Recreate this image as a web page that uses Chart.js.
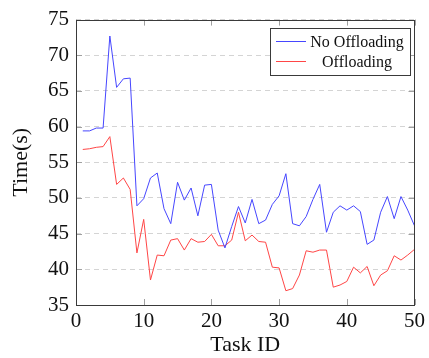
<!DOCTYPE html>
<html>
<head>
<meta charset="utf-8">
<script src="https://cdn.jsdelivr.net/npm/chart.js@4"></script>
<style>body{margin:0;background:#fff}</style>
</head>
<body>
<canvas id="myChart" width="429" height="358"></canvas>
<script>
const taskIds = [1,2,3,4,5,6,7,8,9,10,11,12,13,14,15,16,17,18,19,20,21,22,23,24,25,
  26,27,28,29,30,31,32,33,34,35,36,37,38,39,40,41,42,43,44,45,46,47,48,49,50];

const noOffloading = [59.4,59.4,59.8,59.8,72.7,65.5,66.7,66.8,48.9,49.9,52.8,53.5,48.5,46.4,52.2,
  49.7,51.4,47.5,51.8,51.9,45.5,43.0,46.0,48.8,46.5,49.8,46.4,46.9,49.1,50.3,53.4,46.4,46.1,47.4,
  49.8,51.9,45.2,48.0,48.9,48.3,48.9,48.1,43.5,44.1,48.0,50.2,47.1,50.2,48.3,46.1];

const offloading = [56.8,56.9,57.1,57.2,58.6,51.9,52.8,51.2,42.3,47.0,38.5,42.0,41.9,44.1,44.3,
  42.7,44.3,43.8,43.9,44.9,43.3,43.3,44.1,48.0,44.0,44.8,43.9,43.8,40.3,40.2,37.0,37.3,39.2,42.6,
  42.4,42.7,42.7,37.5,37.8,38.3,40.3,39.5,40.4,37.7,39.2,39.8,41.9,41.3,42.0,42.8];

const seriesNames = ['No Offloading', 'Offloading'];
const xTicks = [0, 10, 20, 30, 40, 50];
const yTicks = [35, 40, 45, 50, 55, 60, 65, 70, 75];

const serif = "'Liberation Serif', 'DejaVu Serif', serif";

function toPoints(values) {
  return values.map((v, i) => ({x: taskIds[i], y: v}));
}

// frame with inward ticks + boxed legend inside the plot
const frameAndLegend = {
  id: 'frameAndLegend',
  afterDatasetsDraw(chart) {
    const {ctx, chartArea: a, scales} = chart;
    ctx.save();
    ctx.lineWidth = 1;
    ctx.strokeStyle = '#a0a0a0';
    ctx.beginPath();
    xTicks.forEach(v => {
      const px = Math.round(scales.x.getPixelForValue(v)) + 0.5;
      ctx.moveTo(px, a.bottom); ctx.lineTo(px, a.bottom - 6);
      ctx.moveTo(px, a.top); ctx.lineTo(px, a.top + 6);
    });
    yTicks.forEach(v => {
      const py = Math.round(scales.y.getPixelForValue(v)) + 0.5;
      ctx.moveTo(a.left, py); ctx.lineTo(a.left + 6, py);
      ctx.moveTo(a.right, py); ctx.lineTo(a.right - 6, py);
    });
    ctx.stroke();

    ctx.strokeStyle = '#3a3a3a';
    ctx.strokeRect(Math.round(a.left) + 0.5, Math.round(a.top) + 0.5,
      Math.round(a.right - a.left) - 1, Math.round(a.bottom - a.top));

    // legend
    const bx = 270.5, by = 28.5, bw = 140, bh = 47;
    ctx.fillStyle = '#fff';
    ctx.fillRect(bx, by, bw, bh);
    ctx.strokeStyle = '#3a3a3a';
    ctx.strokeRect(bx, by, bw, bh);
    ctx.font = '16px ' + serif;
    ctx.textAlign = 'center';
    ctx.textBaseline = 'middle';
    chart.data.datasets.forEach((ds, i) => {
      const y = 41.5 + i * 20;
      ctx.strokeStyle = ds.borderColor;
      ctx.beginPath();
      ctx.moveTo(276, y); ctx.lineTo(306, y);
      ctx.stroke();
      ctx.fillStyle = '#111';
      ctx.fillText(ds.label, 357, y + 1);
    });
    ctx.restore();
  }
};

const config = {
  type: 'line',
  data: {
    datasets: [
      {
        label: seriesNames[0],
        data: toPoints(noOffloading),
        borderColor: 'rgb(70,70,255)',
        backgroundColor: 'rgb(70,70,255)',
        borderWidth: 1,
        pointRadius: 0,
        tension: 0
      },
      {
        label: seriesNames[1],
        data: toPoints(offloading),
        borderColor: 'rgb(255,70,70)',
        backgroundColor: 'rgb(255,70,70)',
        borderWidth: 1,
        pointRadius: 0,
        tension: 0
      }
    ]
  },
  options: {
    responsive: false,
    animation: false,
    devicePixelRatio: 1,
    layout: {padding: {left: 0, right: 9, top: 18, bottom: 0}},
    plugins: {
      legend: {display: false},
      tooltip: {enabled: false}
    },
    scales: {
      x: {
        type: 'linear',
        min: 0,
        max: 50,
        afterFit(scale) { scale.height = 53; },
        afterBuildTicks(scale) { scale.ticks = xTicks.map(v => ({value: v})); },
        grid: {display: false, drawTicks: false},
        border: {display: false},
        ticks: {color: '#111', padding: 4, maxRotation: 0, font: {family: serif, size: 21}},
        title: {display: true, text: 'Task ID', color: '#111', padding: {top: 0, bottom: 0},
          font: {family: serif, size: 22}}
      },
      y: {
        min: 35,
        max: 75,
        afterFit(scale) { scale.width = 76; },
        afterBuildTicks(scale) { scale.ticks = yTicks.map(v => ({value: v})); },
        grid: {color: '#d4d4d4', drawTicks: false},
        border: {display: false, dash: [5, 4]},
        ticks: {color: '#111', padding: 7, font: {family: serif, size: 21}},
        title: {display: true, text: 'Time(s)', color: '#111', padding: {top: 8, bottom: 0},
          font: {family: serif, size: 22}}
      }
    }
  },
  plugins: [frameAndLegend]
};

const myChart = new Chart(document.getElementById('myChart'), config);
</script>
</body>
</html>
